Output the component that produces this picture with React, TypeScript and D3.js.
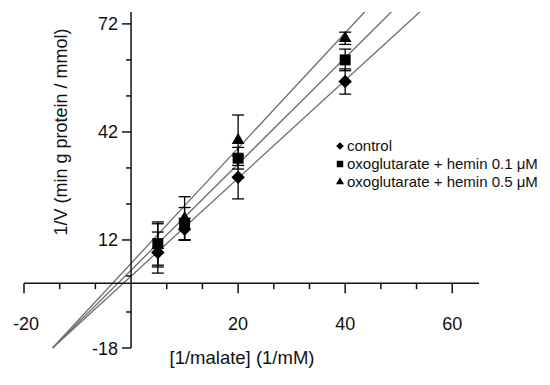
import React, { useEffect, useRef } from "react";
import * as d3 from "d3";

// x values (1/malate, 1/mM)
const malateInv = [5, 10, 20, 40];

// series means and error bars (1/V)
const controlMeans = [8.5, 15, 29.4, 56];
const controlErrors = [5.7, 3, 6, 3.5];
const hemin01Means = [11, 16.5, 34.7, 62];
const hemin01Errors = [6, 4.5, 3, 3];
const hemin05Means = [10.5, 18, 39.7, 68];
const hemin05Errors = [6, 6, 7, 1.7];

// linear fits: control, hemin 0.1, hemin 0.5
const fitSlopes = [1.36, 1.475, 1.6];
const fitIntercepts = [1.95, 3.6, 5.5];

const seriesNames = ["control", "oxoglutarate + hemin 0.1 \u03bcM", "oxoglutarate + hemin 0.5 \u03bcM"];

// wide diamond (square turned 45 degrees), d3's own is too narrow
const wideDiamond = {
  draw(context: any, size: number) {
    const r = Math.sqrt(size / 2);
    context.moveTo(0, -r);
    context.lineTo(r, 0);
    context.lineTo(0, r);
    context.lineTo(-r, 0);
    context.closePath();
  }
};
const seriesSymbols = [wideDiamond, d3.symbolSquare, d3.symbolTriangle];

const xLabelTicks = [-20, 20, 40, 60];
const yLabelTicks = [72, 42, 12, -18];

const FONT = "Arial, 'Liberation Sans', sans-serif";

export default function App() {
  const ref = useRef<SVGSVGElement>(null);

  useEffect(() => {
    const svg = d3.select(ref.current);
    svg.selectAll("*").remove();

    const xMin = -20, xMax = 65, yMin = -18, yMax = 75.3;
    const x = d3.scaleLinear().domain([xMin, xMax]).range([24, 479]);
    const y = d3.scaleLinear().domain([yMin, yMax]).range([348, 12]);

    // fit lines, clipped to the y range
    const fits = svg.append("g");
    fitSlopes.forEach((m, i) => {
      const b = fitIntercepts[i];
      const x0 = (yMin - b) / m;
      const x1 = (yMax - b) / m;
      fits
        .append("line")
        .attr("x1", x(x0))
        .attr("y1", y(yMin))
        .attr("x2", x(x1))
        .attr("y2", y(yMax))
        .attr("stroke", "#6e6e6e")
        .attr("stroke-width", 1.3);
    });

    // axes
    const axes = svg.append("g").attr("stroke", "#111").attr("stroke-width", 1.5);
    axes.append("line").attr("x1", x(xMin)).attr("x2", x(xMax)).attr("y1", y(0)).attr("y2", y(0));
    axes.append("line").attr("x1", x(0)).attr("x2", x(0)).attr("y1", y(yMin)).attr("y2", y(yMax));

    // x ticks every 20/3
    for (let k = 0; k <= 12; k++) {
      const v = xMin + (k * 20) / 3;
      if (Math.abs(v) < 1e-6) continue;
      const major = k % 3 === 0;
      axes
        .append("line")
        .attr("x1", x(v))
        .attr("x2", x(v))
        .attr("y1", y(0))
        .attr("y2", y(0) + (major ? 10 : 6));
    }
    // y ticks every 10
    for (let v = yMin; v <= 72; v += 10) {
      const major = (v - yMin) % 30 === 0;
      axes
        .append("line")
        .attr("x1", x(0))
        .attr("x2", x(0) - (major ? 9 : 5))
        .attr("y1", y(v))
        .attr("y2", y(v));
    }

    const labels = svg.append("g").attr("font-family", FONT).attr("fill", "#111");
    xLabelTicks.forEach(v => {
      labels
        .append("text")
        .attr("x", x(v) + (v < 0 ? 2 : 0))
        .attr("y", 330)
        .attr("text-anchor", "middle")
        .attr("font-size", 18)
        .text(v);
    });
    yLabelTicks.forEach(v => {
      labels
        .append("text")
        .attr("x", 118)
        .attr("y", y(v) + 6.5)
        .attr("text-anchor", "end")
        .attr("font-size", 18)
        .text(v);
    });

    labels
      .append("text")
      .attr("x", 242)
      .attr("y", 364)
      .attr("text-anchor", "middle")
      .attr("font-size", 18.5)
      .text("[1/malate] (1/mM)");
    labels
      .append("text")
      .attr("transform", "translate(67,132) rotate(-90)")
      .attr("text-anchor", "middle")
      .attr("font-size", 18)
      .text("1/V (min g protein / mmol)");

    // error bars and markers
    const allMeans = [controlMeans, hemin01Means, hemin05Means];
    const allErrors = [controlErrors, hemin01Errors, hemin05Errors];
    const sizes = [90, 120, 70];
    const pts = svg.append("g");
    allMeans.forEach((means, s) => {
      means.forEach((m, i) => {
        const e = allErrors[s][i];
        const cx = x(malateInv[i]);
        const g = pts.append("g").attr("stroke", "#000").attr("stroke-width", 1.3);
        g.append("line").attr("x1", cx).attr("x2", cx).attr("y1", y(m - e)).attr("y2", y(m + e));
        g.append("line").attr("x1", cx - 6).attr("x2", cx + 6).attr("y1", y(m - e)).attr("y2", y(m - e));
        g.append("line").attr("x1", cx - 6).attr("x2", cx + 6).attr("y1", y(m + e)).attr("y2", y(m + e));
      });
    });
    allMeans.forEach((means, s) => {
      means.forEach((m, i) => {
        pts
          .append("path")
          .attr("d", d3.symbol().type(seriesSymbols[s] as any).size(sizes[s])())
          .attr("transform", `translate(${x(malateInv[i])},${y(m)})`)
          .attr("fill", "#000");
      });
    });

    // legend
    const legendY = [151, 169, 187];
    const legendSizes = [30, 42, 28];
    seriesNames.forEach((name, s) => {
      pts
        .append("path")
        .attr("d", d3.symbol().type(seriesSymbols[s] as any).size(legendSizes[s])())
        .attr("transform", `translate(340,${legendY[s] - 5})`)
        .attr("fill", "#000");
      labels
        .append("text")
        .attr("x", 347)
        .attr("y", legendY[s])
        .attr("font-size", 15)
        .text(name);
    });
  }, []);

  return (
    <svg
      ref={ref}
      width={550}
      height={385}
      style={{ position: "absolute", left: 0, top: 0, background: "#fff" }}
    />
  );
}
